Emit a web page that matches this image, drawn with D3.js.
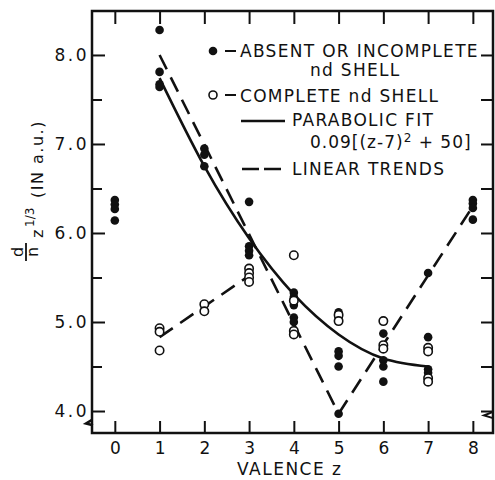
<!DOCTYPE html>
<html>
<head>
<meta charset="utf-8">
<script src="https://cdn.jsdelivr.net/npm/d3@7"></script>
<style>
  html, body { margin: 0; padding: 0; background: #fff; }
  svg { display: block; }
  text { font-family: "DejaVu Sans", sans-serif; fill: #111; }
</style>
</head>
<body>
<svg id="chart" width="495" height="480"></svg>
<script>
// Valence z and d/n z^(1/3) values
const filledZ = [0, 0, 0, 0, 1, 1, 1, 1, 2, 2, 2, 3, 3, 3, 3, 4, 4, 4, 4, 4,
  5, 5, 5, 5, 5, 5, 6, 6, 6, 6, 7, 7, 7, 7, 8, 8, 8, 8];
const filledV = [6.37, 6.32, 6.27, 6.14, 8.28, 7.81, 7.67, 7.64, 6.95, 6.88, 6.75,
  6.35, 5.85, 5.80, 5.75, 5.33, 5.28, 5.19, 5.05, 5.00,
  5.11, 5.05, 4.67, 4.62, 4.50, 3.97, 4.87, 4.57, 4.50, 4.33,
  5.55, 4.83, 4.47, 4.43, 6.37, 6.33, 6.28, 6.15];

const openZ = [1, 1, 1, 2, 2, 3, 3, 3, 3, 4, 4, 4, 4, 5, 5, 6, 6, 6, 7, 7, 7, 7];
const openV = [4.93, 4.89, 4.68, 5.20, 5.12, 5.60, 5.55, 5.50, 5.45,
  5.75, 5.24, 4.90, 4.86, 5.08, 5.01, 5.01, 4.74, 4.70, 4.71, 4.67, 4.37, 4.33];

// parabolic fit, sampled at each valence
const fitZ = [1, 2, 3, 4, 5, 6, 7];
const fitV = [7.74, 6.75, 5.94, 5.31, 4.86, 4.59, 4.50];

// linear trends (dashed)
const trendDown = [[1, 8.0], [5, 3.97]];
const trendUp = [[5, 3.97], [8, 6.30]];
const trendOpen = [[1, 4.83], [3, 5.52]];

const xTicks = [0, 1, 2, 3, 4, 5, 6, 7, 8];
const yMajor = [4, 5, 6, 7, 8];
const yMinor = [4.5, 5.5, 6.5, 7.5];

const svg = d3.select('#chart');
const box = { left: 92, right: 493, top: 11, bottom: 433 };

const x = d3.scaleLinear().domain([-0.51, 8.45]).range([box.left, box.right]);
const y = d3.scaleLinear().domain([3.753, 8.494]).range([box.bottom, box.top]);

// ---- axes (ticks point inward) ----
function styleAxis(g) {
  g.select('.domain').remove();
  g.selectAll('line').attr('stroke', '#111').attr('stroke-width', 2);
  g.selectAll('text')
    .style('font-family', '"DejaVu Sans", sans-serif')
    .style('font-size', '16px')
    .attr('fill', '#111');
}

svg.append('g')
  .attr('transform', `translate(0,${box.bottom})`)
  .call(d3.axisBottom(x).tickValues(xTicks).tickSize(-12).tickSizeOuter(0).tickPadding(9))
  .call(styleAxis)
  .call(g => g.selectAll('text').style('font-size', '17px'));

svg.append('g')
  .attr('transform', `translate(0,${box.top})`)
  .call(d3.axisTop(x).tickValues(xTicks).tickSize(-13).tickSizeOuter(0).tickFormat(''))
  .call(styleAxis);

svg.append('g')
  .attr('transform', `translate(${box.left},0)`)
  .call(d3.axisLeft(y).tickValues(yMajor).tickSize(-13).tickSizeOuter(0)
    .tickPadding(3).tickFormat(d => d.toFixed(1)))
  .call(styleAxis)
  .call(g => g.selectAll('text').style('font-size', '17px').style('letter-spacing', '2.5px'));

svg.append('g')
  .attr('transform', `translate(${box.left},0)`)
  .call(d3.axisLeft(y).tickValues(yMinor).tickSize(-10).tickSizeOuter(0).tickFormat(''))
  .call(styleAxis);

svg.append('g')
  .attr('transform', `translate(${box.right},0)`)
  .call(d3.axisRight(y).tickValues(yMajor.concat(yMinor)).tickSize(-12).tickSizeOuter(0).tickFormat(''))
  .call(styleAxis);

// frame
svg.append('rect')
  .attr('x', box.left).attr('y', box.top)
  .attr('width', box.right - box.left).attr('height', box.bottom - box.top)
  .attr('fill', 'none').attr('stroke', '#111').attr('stroke-width', 2.5);

// axis break marks
svg.append('path')
  .attr('d', `M${box.left},${y(3.9)} L${box.left - 6},${y(3.86)} L${box.left + 1},${y(3.84)}`)
  .attr('fill', 'none').attr('stroke', '#111').attr('stroke-width', 2.5);
svg.append('path')
  .attr('d', `M${box.right},${y(3.99)} L${box.right - 9},${y(3.95)} L${box.right},${y(3.92)}`)
  .attr('fill', 'none').attr('stroke', '#111').attr('stroke-width', 2);

// ---- fit and trend lines ----
const line = d3.line().x(d => x(d[0])).y(d => y(d[1]));

svg.append('path')
  .datum(fitZ.map((z, i) => [z, fitV[i]]))
  .attr('d', line.curve(d3.curveNatural))
  .attr('fill', 'none').attr('stroke', '#111').attr('stroke-width', 2.6);

line.curve(d3.curveLinear);
[trendDown, trendUp, trendOpen].forEach(seg => {
  svg.append('path')
    .datum(seg)
    .attr('d', line)
    .attr('fill', 'none').attr('stroke', '#111').attr('stroke-width', 2.6)
    .attr('stroke-dasharray', '16,9');
});

// ---- points ----
svg.append('g').selectAll('circle')
  .data(filledZ.map((z, i) => [z, filledV[i]]))
  .enter().append('circle')
  .attr('cx', d => x(d[0])).attr('cy', d => y(d[1]))
  .attr('r', 4.3).attr('fill', '#111');

svg.append('g').selectAll('circle')
  .data(openZ.map((z, i) => [z, openV[i]]))
  .enter().append('circle')
  .attr('cx', d => x(d[0])).attr('cy', d => y(d[1]))
  .attr('r', 4.2).attr('fill', '#fff').attr('stroke', '#111').attr('stroke-width', 1.6);

// ---- legend ----
const lg = svg.append('g').style('font-size', '17px').style('letter-spacing', '1.3px');

lg.append('circle').attr('cx', 213).attr('cy', 51).attr('r', 4.3).attr('fill', '#111');
lg.append('line').attr('x1', 225).attr('x2', 236).attr('y1', 51).attr('y2', 51)
  .attr('stroke', '#111').attr('stroke-width', 2);
lg.append('text').attr('x', 240).attr('y', 57).text('ABSENT OR INCOMPLETE');
lg.append('text').attr('x', 310).attr('y', 76).text('nd SHELL');

lg.append('circle').attr('cx', 213).attr('cy', 95).attr('r', 4).attr('fill', '#fff')
  .attr('stroke', '#111').attr('stroke-width', 1.6);
lg.append('line').attr('x1', 225).attr('x2', 236).attr('y1', 95).attr('y2', 95)
  .attr('stroke', '#111').attr('stroke-width', 2);
lg.append('text').attr('x', 240).attr('y', 102).text('COMPLETE nd SHELL');

lg.append('line').attr('x1', 241).attr('x2', 285).attr('y1', 121).attr('y2', 121)
  .attr('stroke', '#111').attr('stroke-width', 2.6);
lg.append('text').attr('x', 292).attr('y', 126).text('PARABOLIC FIT');

const fitLabel = lg.append('text').attr('x', 310).attr('y', 148).style('letter-spacing', '1px');
fitLabel.append('tspan').text('0.09[(z-7)');
fitLabel.append('tspan').attr('dy', -6).style('font-size', '12px').text('2');
fitLabel.append('tspan').attr('dy', 6).text(' + 50]');

lg.append('line').attr('x1', 242).attr('x2', 285).attr('y1', 169).attr('y2', 169)
  .attr('stroke', '#111').attr('stroke-width', 2.6).attr('stroke-dasharray', '17,5');
lg.append('text').attr('x', 292).attr('y', 175).text('LINEAR TRENDS');

// ---- axis titles ----
svg.append('text')
  .attr('x', 237).attr('y', 475)
  .style('font-size', '17px').style('letter-spacing', '1.5px')
  .text('VALENCE  z');

const yt = svg.append('g')
  .attr('transform', 'translate(43,252) rotate(-90)')
  .style('font-size', '16px');
yt.append('text').attr('x', 0).attr('y', -20).attr('text-anchor', 'middle').text('d');
yt.append('line').attr('x1', -9).attr('x2', 9).attr('y1', -17).attr('y2', -17)
  .attr('stroke', '#111').attr('stroke-width', 1.8);
yt.append('text').attr('x', 0).attr('y', -5).attr('text-anchor', 'middle').text('n');
yt.append('text').attr('x', 14).attr('y', 0).text('z');
yt.append('text').attr('x', 25).attr('y', -9).style('font-size', '12px').text('1/3');
yt.append('text').attr('x', 54).attr('y', 0).style('letter-spacing', '1.5px').text('(IN a.u.)');
</script>
</body>
</html>
